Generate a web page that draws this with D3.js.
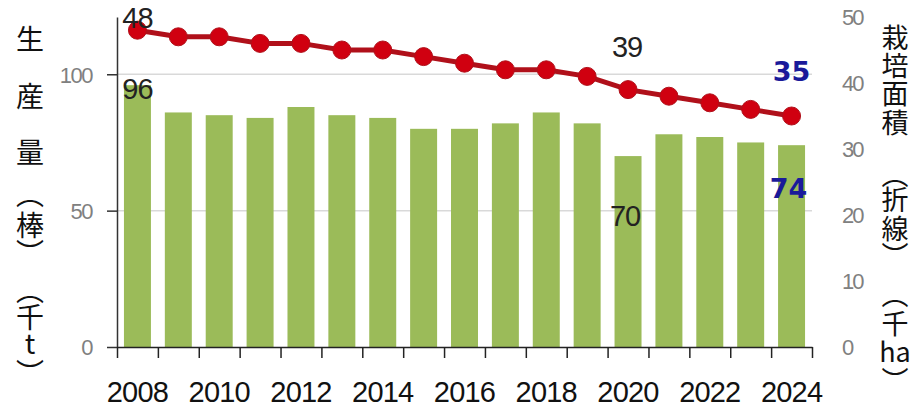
<!DOCTYPE html>
<html>
<head>
<meta charset="utf-8">
<script src="https://cdn.jsdelivr.net/npm/d3@7"></script>
<style>
body{margin:0;background:#fff;}
svg{display:block;}
.tick-l{font-family:"Liberation Sans",Arial,sans-serif;fill:#808080;}
.ttl{font-family:"Noto Sans CJK JP",sans-serif;fill:#111;}
</style>
</head>
<body>
<div id="chart"></div>
<script>
const w = 914;
const h = 411;

//data
const years = [2008,2009,2010,2011,2012,2013,2014,2015,2016,2017,2018,2019,2020,2021,2022,2023,2024];
const production = [96,86,85,84,88,85,84,80,80,82,86,82,70,78,77,75,74]; //千t
const area = [48,47,47,46,46,45,45,44,43,42,42,41,39,38,37,36,35]; //千ha
const leftTicks = [0,50,100];
const rightTicks = [0,10,20,30,40,50];
const yearLabels = [2008,2010,2012,2014,2016,2018,2020,2022,2024];

//plot box
const x0 = 117, x1 = 812, yB = 347, yT = 17;

const svg = d3.select("#chart")
.append('svg')
.attr('width',w)
.attr('height',h);

const xScale = d3.scaleBand()
.domain(years)
.range([x0,x1])
.paddingInner(0.34)
.paddingOuter(0.17);

const yL = d3.scaleLinear().domain([0,121]).range([yB,yT]);
const yR = d3.scaleLinear().domain([0,50]).range([yB,yT]);

//gridlines
svg.append('g')
.selectAll('line')
.data([50,100])
.enter()
.append('line')
.attr('x1',x0).attr('x2',x1)
.attr('y1',d=>yL(d)).attr('y2',d=>yL(d))
.attr('stroke','#d9d9d9')
.attr('stroke-width',1.5);

//bars
svg.append('g')
.selectAll('rect')
.data(production)
.enter()
.append('rect')
.attr('x',(d,i)=>xScale(years[i]))
.attr('width',xScale.bandwidth())
.attr('y',d=>yL(d))
.attr('height',d=>yB-yL(d))
.attr('fill','#9bbb59');

//left axis
const leftAxis = svg.append('g')
.attr('transform',`translate(${x0},0)`)
.call(d3.axisLeft(yL).tickValues(leftTicks).tickSize(10).tickSizeOuter(0));
leftAxis.select('.domain').attr('stroke','#333').attr('stroke-width',1.5);
leftAxis.selectAll('.tick line').attr('stroke','#333').attr('stroke-width',1.5);
leftAxis.selectAll('.tick text')
.attr('class','tick-l')
.attr('x',-25)
.attr('dy','0.36em')
.style('font-size','22px')
.style('letter-spacing','-1.5px');

//bottom axis: ticks at band edges
const edge = d3.scaleLinear().domain([0,years.length]).range([x0,x1]);
const bottomAxis = svg.append('g')
.attr('transform',`translate(0,${yB})`)
.call(d3.axisBottom(edge).ticks(years.length).tickFormat('').tickSize(11).tickSizeOuter(0));
bottomAxis.select('.domain').attr('stroke','#222').attr('stroke-width',1.5);
bottomAxis.selectAll('.tick line').attr('stroke','#222').attr('stroke-width',1.5);

//year labels
const yearAxis = svg.append('g')
.attr('transform',`translate(0,${yB})`)
.call(d3.axisBottom(xScale).tickValues(yearLabels).tickSize(0));
yearAxis.select('.domain').remove();
yearAxis.selectAll('text')
.attr('y',55)
.attr('dy',0)
.attr('fill','#111')
.style('font-family','"Liberation Sans",Arial,sans-serif')
.style('font-size','29px')
.style('letter-spacing','-0.8px');

//right axis
const rightAxis = svg.append('g')
.attr('transform',`translate(${x1},0)`)
.call(d3.axisRight(yR).tickValues(rightTicks).tickSize(0));
rightAxis.select('.domain').remove();
rightAxis.selectAll('.tick text')
.attr('class','tick-l')
.attr('x',30)
.attr('dy','0.36em')
.style('font-size','22px')
.style('letter-spacing','-2px');

//line
const cx = (d,i)=>xScale(years[i]) + xScale.bandwidth()/2;
const line = d3.line()
.x(cx)
.y(d=>yR(d));
svg.append('path')
.datum(area)
.attr('d',line)
.attr('fill','none')
.attr('stroke','#b0101a')
.attr('stroke-width',5);
svg.append('g')
.selectAll('circle')
.data(area)
.enter()
.append('circle')
.attr('cx',cx)
.attr('cy',d=>yR(d))
.attr('r',9)
.attr('fill','#d00010')
.attr('stroke','#b0101a')
.attr('stroke-width',1);

//data labels
const last = years.length - 1;
const i2020 = years.indexOf(2020);
function label(x, y, value, highlight){
    svg.append('text')
    .attr('x',x)
    .attr('y',y)
    .attr('text-anchor','middle')
    .attr('fill',highlight ? '#1a1a9a' : '#222')
    .style('font-family',highlight ? '"DejaVu Sans",Verdana,sans-serif' : '"Liberation Sans",Arial,sans-serif')
    .style('font-weight',highlight ? 'bold' : 'normal')
    .style('font-size',highlight ? '27px' : '29px')
    .style('letter-spacing',highlight ? '0px' : '-1px')
    .text(value);
}
label(cx(null,0), yR(area[0])-2, area[0], false);
label(cx(null,0), yL(production[0])+14, production[0], false);
label(cx(null,i2020)-1, yR(area[i2020])-33, area[i2020], false);
label(cx(null,i2020)-3, yL(production[i2020])+70, production[i2020], false);
label(cx(null,last), yR(area[last])-35, area[last], true);
label(cx(null,last)-3, yL(production[last])+53, production[last], true);

//vertical titles (︵ ink sits a bit low in its em box, ︶ a bit high)
const leftTitle = [['生',40],['産',97],['量',153],['︵',195],['棒',226],['︶',254],['︵',291],['千',318],['t',344],['︶',374]];
const rightTitle = [['栽',38],['培',66],['面',94],['積',123],['︵',175],['折',200],['線',229],['︶',256],['︵',295],['千',324],['ha',352],['︶',381]];
svg.append('g').selectAll('text')
.data(leftTitle).enter().append('text')
.attr('class','ttl')
.attr('x',30).attr('y',d=>d[1])
.attr('dy','0.36em')
.attr('text-anchor','middle')
.style('font-size','28px')
.text(d=>d[0]);
svg.append('g').selectAll('text')
.data(rightTitle).enter().append('text')
.attr('class','ttl')
.attr('x',895).attr('y',d=>d[1])
.attr('dy','0.36em')
.attr('text-anchor','middle')
.style('font-size','27px')
.text(d=>d[0]);
</script>
</body>
</html>
